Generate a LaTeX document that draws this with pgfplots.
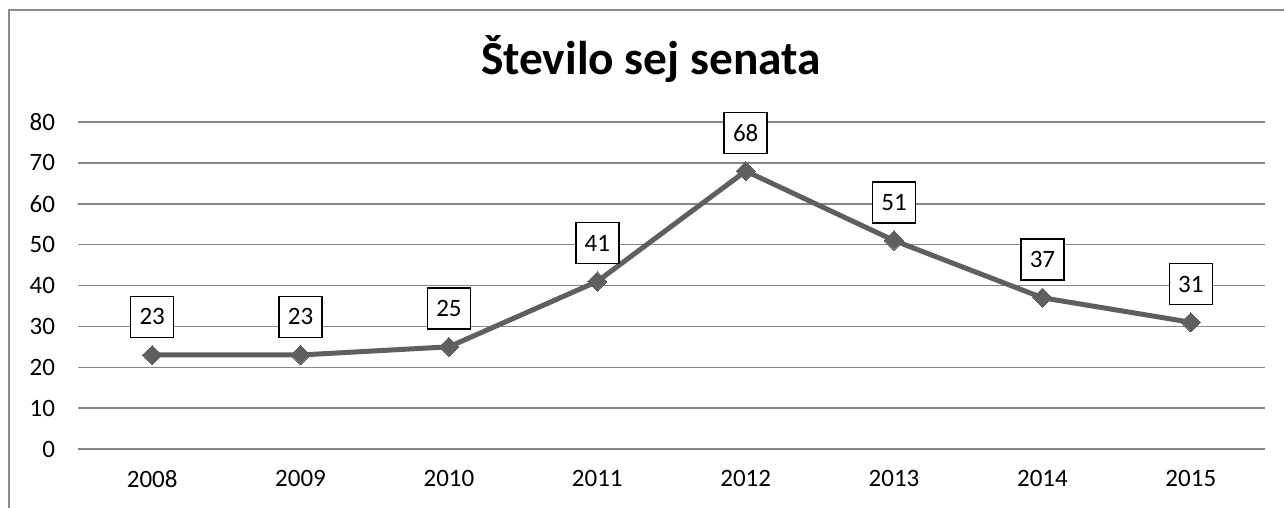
\documentclass[border=0pt]{standalone}
\usepackage{fontspec}
\setmainfont{Carlito}
\usepackage{pgfplots}
\pgfplotsset{compat=1.18}
\definecolor{linegray}{HTML}{5F5F5F}
\definecolor{gridgray}{HTML}{878787}
\definecolor{framegray}{HTML}{8C8C8C}
\begin{document}
\begin{tikzpicture}
\path[use as bounding box] (0,0) rectangle (642pt,254pt);
\draw[framegray, line width=1pt] (4.5pt,-5pt) -- (4.5pt,249pt) -- (650pt,249pt);
\node[anchor=base, font=\fontsize{23.7pt}{28pt}\selectfont\bfseries] at (325.5pt,216.5pt) {Število sej senata};
\begin{axis}[
  at={(39pt,29.5pt)}, anchor=south west,
  scale only axis, width=593.5pt, height=163.5pt,
  xmin=-0.5, xmax=7.5, ymin=0, ymax=80,
  xtick={0,...,7},
  xticklabels={2008,2009,2010,2011,2012,2013,2014,2015},
  ytick={0,10,...,80},
  ymajorgrids, grid style={gridgray, line width=0.75pt},
  axis line style={draw=none},
  major tick length=0pt,
  /pgf/number format/assume math mode=true,
  tick label style={font=\fontsize{12.5pt}{15pt}\selectfont},
  yticklabel style={xshift=-8pt},
  xticklabel style={yshift=-7pt},
  clip=false,
  nodes near coords,
  nodes near coords style={anchor=south, yshift=8.5pt, draw=black, text=black, line width=0.7pt, fill=white,
    font=\fontsize{12.5pt}{15pt}\selectfont, minimum width=21.5pt, minimum height=20.5pt, inner sep=0pt},
]
\addplot[linegray, line width=2.5pt, mark=square*, mark size=3.4pt,
  mark options={rotate=45, fill=linegray, draw=none, line width=0pt}]
  coordinates {(0,23) (1,23) (2,25) (3,41) (4,68) (5,51) (6,37) (7,31)};
\end{axis}
\end{tikzpicture}
\end{document}
